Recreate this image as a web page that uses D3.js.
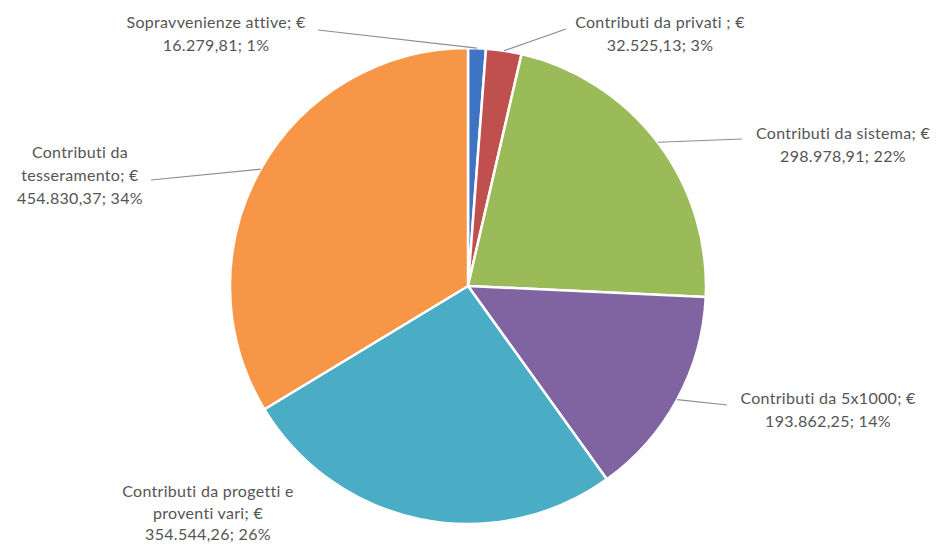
<!DOCTYPE html>
<html>
<head>
<meta charset="utf-8">
<script src="https://cdn.jsdelivr.net/npm/d3@7"></script>
<style>
  html, body { margin: 0; padding: 0; background: #fff; }
  svg { display: block; }
  .lbl { font-family: Lato, "Noto Sans", sans-serif; font-size: 16px; letter-spacing: 0.3px; fill: #555555; }
</style>
</head>
<body>
<svg id="chart" width="940" height="546"></svg>
<script>
// Revenue sources, in drawing order (clockwise from 12 o'clock)
const categories = [
  "Sopravvenienze attive",
  "Contributi da privati",
  "Contributi da sistema",
  "Contributi da 5x1000",
  "Contributi da progetti e proventi vari",
  "Contributi da tesseramento"
];
const values = [16279.81, 32525.13, 298978.91, 193862.25, 354544.26, 454830.37];
const percentLabels = ["1%", "3%", "22%", "14%", "26%", "34%"];
const colors = ["#3f73c4", "#c0504d", "#9bbb59", "#8064a2", "#4bacc6", "#f79646"];

// How each category name wraps in its data label
const nameLines = [
  ["Sopravvenienze attive; €"],
  ["Contributi da privati ; €"],
  ["Contributi da sistema; €"],
  ["Contributi da 5x1000; €"],
  ["Contributi da progetti e", "proventi vari; €"],
  ["Contributi da", "tesseramento; €"]
];

// Label placement: text centre x, first line y, line step, leader anchor near the text
const labelLayout = [
  { x: 216, y: 28, step: 23, anchor: [318, 30] },
  { x: 660, y: 28, step: 23, anchor: [566, 29] },
  { x: 843, y: 139, step: 23, anchor: [742, 139] },
  { x: 828, y: 404, step: 23, anchor: [727, 405] },
  { x: 208, y: 497, step: 21.5, anchor: null },
  { x: 80, y: 158, step: 23, anchor: [151, 180] }
];

const itFormat = d3.formatLocale({ decimal: ",", thousands: ".", grouping: [3], currency: ["€", ""] }).format(",.2f");

const svg = d3.select("#chart");
const cx = 468, cy = 286, radius = 238;

const data = categories.map((c, i) => ({ name: c, value: values[i], i }));
const pie = d3.pie().sort(null).value(d => d.value).startAngle(0).endAngle(2 * Math.PI);
const arcs = pie(data);
const arc = d3.arc().innerRadius(0).outerRadius(radius);

const g = svg.append("g").attr("transform", `translate(${cx},${cy})`);

g.selectAll("path.slice")
  .data(arcs)
  .join("path")
  .attr("class", "slice")
  .attr("d", arc)
  .attr("fill", d => colors[d.data.i])
  .attr("stroke", "#fff")
  .attr("stroke-width", 2.5)
  .attr("stroke-linejoin", "round");

// Leader lines from the slice edge (mid-angle) out to the label
arcs.forEach(d => {
  const lay = labelLayout[d.data.i];
  if (!lay.anchor) return;
  const mid = (d.startAngle + d.endAngle) / 2;
  const ex = cx + radius * Math.sin(mid);
  const ey = cy - radius * Math.cos(mid);
  svg.append("line")
    .attr("x1", ex).attr("y1", ey)
    .attr("x2", lay.anchor[0]).attr("y2", lay.anchor[1])
    .attr("stroke", "#8c8c9a")
    .attr("stroke-width", 1.2);
});

// Data labels: name; € value; percent
arcs.forEach(d => {
  const i = d.data.i;
  const lay = labelLayout[i];
  const lines = nameLines[i].concat([`${itFormat(values[i])}; ${percentLabels[i]}`]);
  const t = svg.append("text")
    .attr("class", "lbl")
    .attr("text-anchor", "middle")
    .attr("x", lay.x)
    .attr("y", lay.y);
  lines.forEach((ln, k) => {
    t.append("tspan").attr("x", lay.x).attr("dy", k === 0 ? 0 : lay.step).text(ln);
  });
});
</script>
</body>
</html>
